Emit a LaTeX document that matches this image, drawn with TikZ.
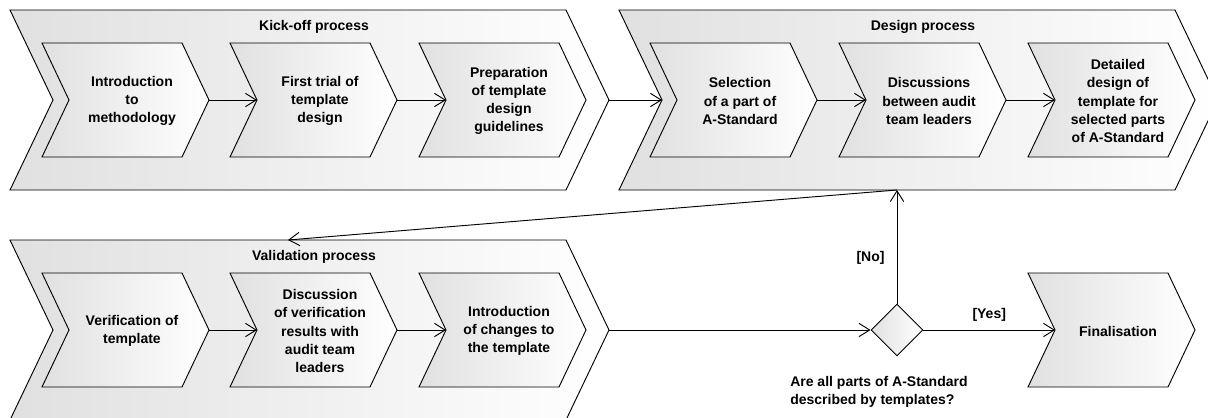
\documentclass[tikz,border=0pt]{standalone}
\usepackage{fontspec}
\setmainfont{Liberation Sans}
\usetikzlibrary{calc,arrows.meta,shapes.geometric,positioning}

\tikzset{
  chevfill/.style={draw=black, line width=0.7pt, left color=black!12, middle color=black!3, right color=white},
  lbl/.style={font=\bfseries\fontsize{10.5}{13.7}\selectfont, align=center, inner sep=0pt},
  conn/.style={-{Straight Barb[length=8pt,width=10pt]}, line width=0.7pt},
  dec/.style={diamond, draw, line width=0.7pt, minimum size=39pt, inner sep=0pt,
    left color=black!12, middle color=black!3, right color=white},
}

% name, centre, half width, half height, depth
\newcommand{\chevron}[5]{%
  \coordinate (#1) at #2;
  \coordinate (#1-tip) at ($(#1)+(#3+#5,0)$);
  \coordinate (#1-notch) at ($(#1)+(-#3+#5,0)$);
  \coordinate (#1-top) at ($(#1)+(0,-#4)$);
  \coordinate (#1-bot) at ($(#1)+(0,#4)$);
  \draw[chevfill] ($(#1)+(-#3,-#4)$) -- ($(#1)+(#3,-#4)$) -- (#1-tip)
    -- ($(#1)+(#3,#4)$) -- ($(#1)+(-#3,#4)$) -- (#1-notch) -- cycle;
}

\begin{document}
\begin{tikzpicture}[x=0.75pt,y=-0.75pt]
\useasboundingbox (0,0) rectangle (1208,418);
\clip (0,0) rectangle (1208,418);

% processes
\chevron{kick}{(288,100)}{278}{90}{43}
\chevron{dsgn}{(897,100)}{278}{90}{43}
\chevron{val}{(288,330)}{278}{90}{43}

\node[lbl] (kickt) at ($(kick-top)+(26,17)$) {Kick-off process};
\node[lbl] (dsgnt) at ($(dsgn-top)+(26,17)$) {Design process};
\node[lbl] (valt) at ($(val-top)+(26,17)$) {Validation process};

% steps
\chevron{k1}{(112,100)}{70}{57}{27}
\chevron{k2}{(300,100)}{70}{57}{27}
\chevron{k3}{(489,100)}{70}{57}{27}
\chevron{d1}{(720,100)}{70}{57}{27}
\chevron{d2}{(909,100)}{70}{57}{27}
\chevron{d3}{(1098,100)}{70}{57}{27}
\chevron{v1}{(112,330)}{70}{57}{27}
\chevron{v2}{(300,330)}{70}{57}{27}
\chevron{v3}{(489,330)}{70}{57}{27}
\chevron{fin}{(1098,330)}{70}{57}{27}

\node[lbl] (k1t) at ($(k1)+(20,1)$) {Introduction\\to\\methodology};
\node[lbl] (k2t) at ($(k2)+(20,1)$) {First trial of\\template\\design};
\node[lbl] (k3t) at ($(k3)+(20,1)$) {Preparation\\of template\\design\\guidelines};
\node[lbl] (d1t) at ($(d1)+(20,1)$) {Selection\\of a part of\\A-Standard};
\node[lbl] (d2t) at ($(d2)+(20,1)$) {Discussions\\between audit\\team leaders};
\node[lbl] (d3t) at ($(d3)+(20,1)$) {Detailed\\design of\\template for\\selected parts\\of A-Standard};
\node[lbl] (v1t) at ($(v1)+(20,1)$) {Verification of\\template};
\node[lbl] (v2t) at ($(v2)+(20,1)$) {Discussion\\of verification\\results with\\audit team\\leaders};
\node[lbl] (v3t) at ($(v3)+(20,1)$) {Introduction\\of changes to\\the template};
\node[lbl] (fint) at ($(fin)+(20,1)$) {Finalisation};

\node[dec] (dec) at (897,330) {};
\node[lbl, align=left, anchor=north west] (qtext) at (790,376)
  {Are all parts of A-Standard\\described by templates?};

% flow
\draw[conn] (k1-tip) -- (k2-notch);
\draw[conn] (k2-tip) -- (k3-notch);
\draw[conn] (kick-tip) -- (dsgn-notch);
\draw[conn] (d1-tip) -- (d2-notch);
\draw[conn] (d2-tip) -- (d3-notch);
\draw[conn] (dsgn-bot) -- (val-top);
\draw[conn] (v1-tip) -- (v2-notch);
\draw[conn] (v2-tip) -- (v3-notch);
\draw[conn] (val-tip) -- (dec.west);
\draw[conn] (dec.east) -- node[lbl, above=6pt] (yes) {[Yes]} (fin-notch);
\draw[conn] (dec.north) -- node[lbl, left=9pt, pos=0.4] (no) {[No]} (dsgn-bot);

\end{tikzpicture}
\end{document}
